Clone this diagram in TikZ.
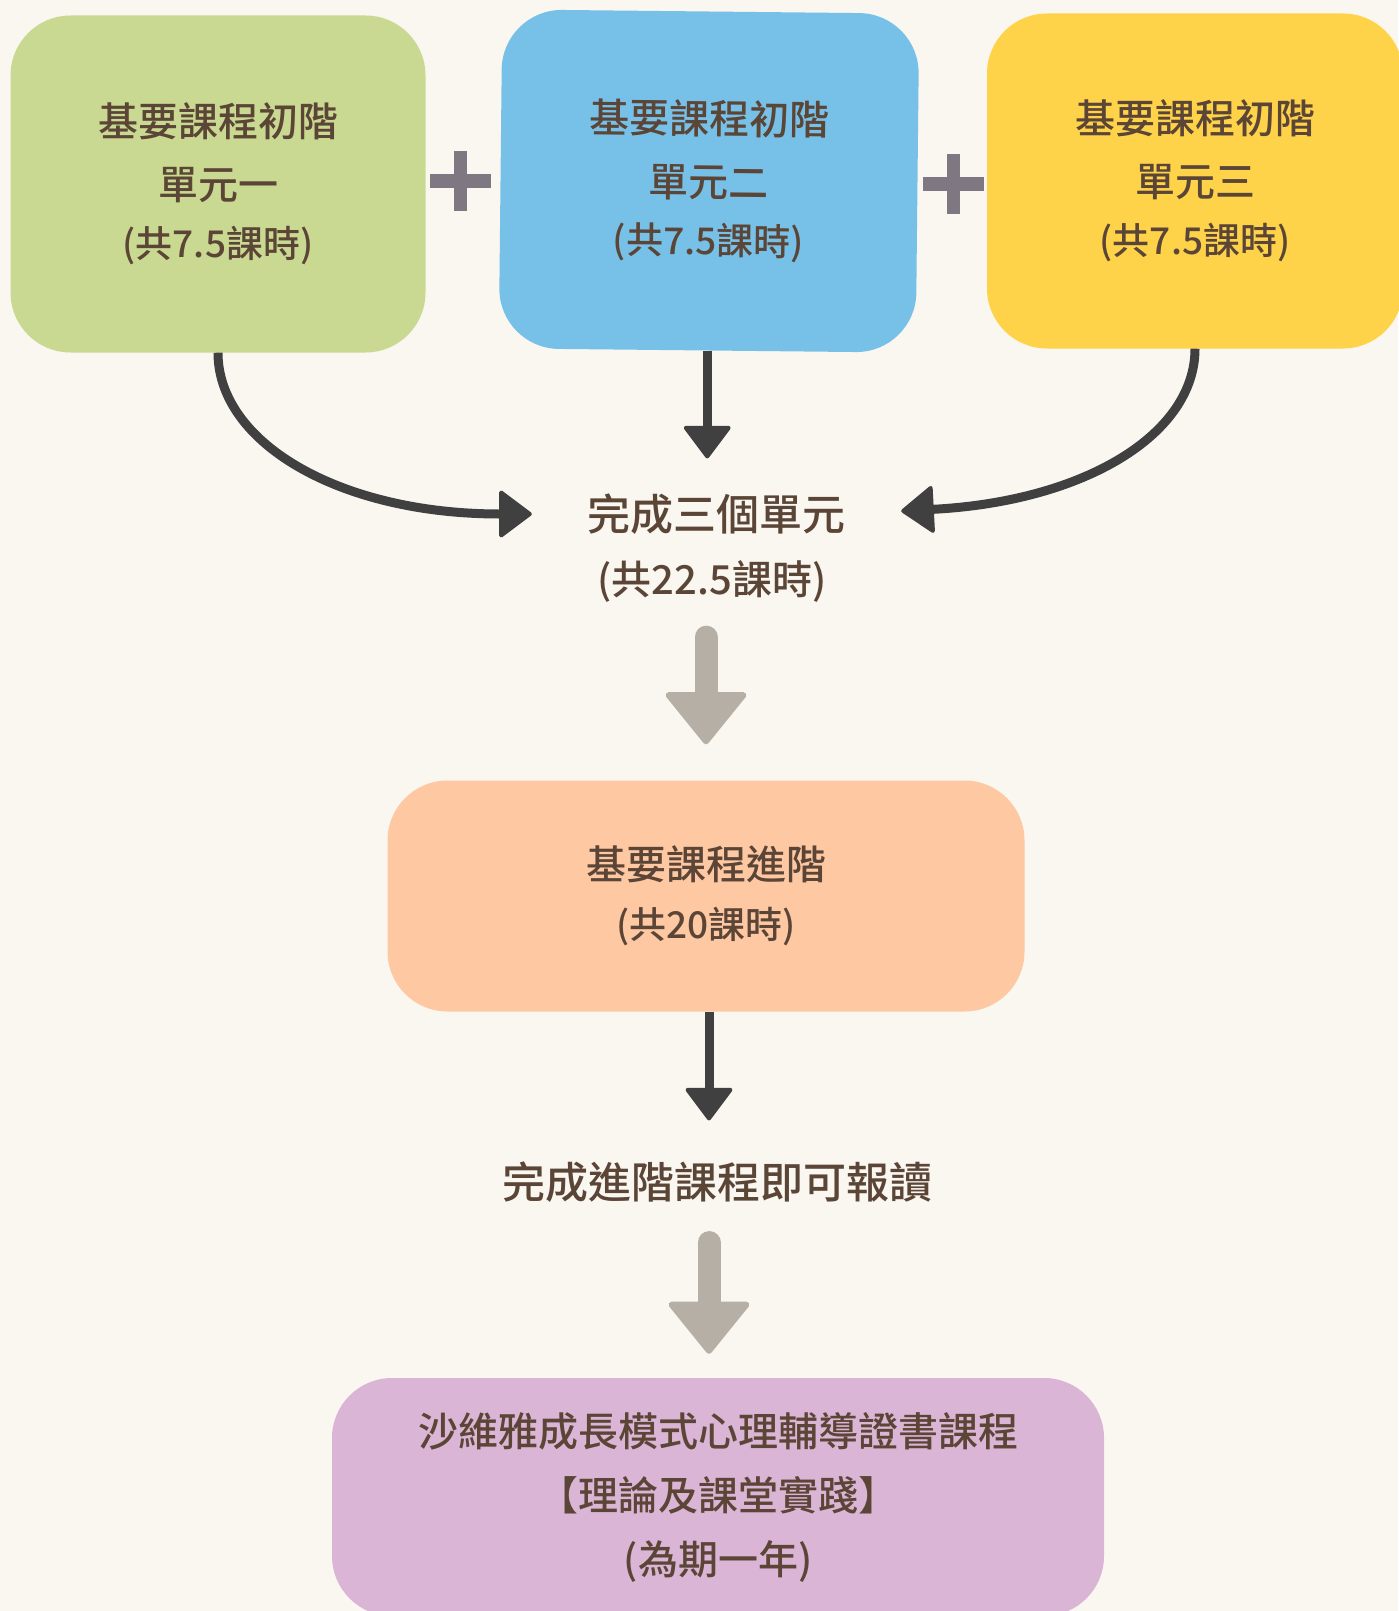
\documentclass[tikz,border=0pt]{standalone}
\usepackage{fontspec}
\setmainfont{Noto Sans CJK TC Medium}
\usetikzlibrary{arrows.meta}

\definecolor{bgcream}{HTML}{FAF6F0}
\definecolor{txtbrown}{HTML}{5B4537}
\definecolor{unitgreen}{HTML}{C9D991}
\definecolor{unitblue}{HTML}{77C1E8}
\definecolor{unityellow}{HTML}{FFD349}
\definecolor{advpeach}{HTML}{FEC8A2}
\definecolor{certpurple}{HTML}{DBB5D6}
\definecolor{arrowdark}{HTML}{404040}
\definecolor{arrowgray}{HTML}{B5AFA5}
\definecolor{plusgray}{HTML}{7F7883}

\newcommand{\hrs}[1]{{\fontsize{37}{60}\selectfont #1}}

\begin{document}
\begin{tikzpicture}[x=1pt,y=1pt,
    every node/.style={text=txtbrown},
    unit/.style={rounded corners=60pt, minimum width=415pt, minimum height=337pt,
                 align=center, font=\fontsize{40}{63}\selectfont,
                 execute at begin node=\rule{0pt}{41pt}},
    textline/.style={inner sep=0pt, font=\fontsize{43}{43}\selectfont},
    flow/.style={draw=arrowdark, line width=9pt,
                 -{Triangle[length=34pt,width=50pt,round,line width=4pt]}},
    bigflow/.style={draw=arrowgray, line width=23pt, line cap=round,
                 -{Triangle[length=54pt,width=86pt,round,line width=6pt]}},
    plusbar/.style={draw=plusgray, line width=13.5pt},
    sweep/.style={out looseness=0.65, in looseness=1.4}
  ]
  \useasboundingbox (0,0) rectangle (1398,-1611);
  \fill[bgcream] (0,0) rectangle (1398,-1611);

  % the three units
  \node[unit, fill=unitgreen] (u1) at (218,-184) {基要課程初階\\單元一\\[-5pt]\hrs{(共7.5課時)}};
  \node[unit, fill=unitblue, minimum width=417pt, minimum height=339pt, rotate=-0.6] (u2) at (709,-181) {基要課程初階\\單元二\\[-5pt]\hrs{(共7.5課時)}};
  \node[unit, fill=unityellow, minimum width=416pt, minimum height=335pt] (u3) at (1195,-181) {基要課程初階\\單元三\\[-5pt]\hrs{(共7.5課時)}};

  \coordinate (plus1) at (460.5,-181);
  \coordinate (plus2) at (953.5,-184);
  \foreach \p in {plus1,plus2} {
    \draw[plusbar] ([xshift=-30.5pt]\p) -- ([xshift=30.5pt]\p);
    \draw[plusbar] ([yshift=-30pt]\p) -- ([yshift=30pt]\p);
  }

  \node[textline] (done) at (716,-514) {完成三個單元};
  \node[textline, font=\fontsize{40}{40}\selectfont] (donehrs) at (712,-581) {(共22.5課時)};

  \node[unit, fill=advpeach, minimum width=637pt, minimum height=231pt] (adv) at (706,-896) {基要課程進階\\[-4pt]\hrs{(共20課時)}};

  \node[textline] (apply) at (717,-1182) {完成進階課程即可報讀};

  \node[unit, fill=certpurple, minimum width=772pt, minimum height=238pt, font=\fontsize{40}{64}\selectfont] (cert) at (718,-1497) {沙維雅成長模式心理輔導證書課程\\【理論及課堂實踐】\\(為期一年)};

  % connectors
  \draw[flow] (u1.south) to[out=-90, in=180, sweep] ([xshift=-55pt]done.west);
  \draw[flow] (u2.south) -- ([yshift=35pt]u2.south |- done.north);
  \draw[flow] (u3.south) to[out=-90, in=3, sweep] ([xshift=56pt,yshift=3pt]done.east);
  \draw[bigflow] ([yshift=-35pt]adv.north |- donehrs.south) -- ([yshift=36pt]adv.north);
  \draw[flow] ([xshift=3pt]adv.south) -- ([xshift=3pt,yshift=41pt]adv.south |- apply.north);
  \draw[bigflow] ([xshift=-8pt,yshift=-40pt]apply.south) -- ([xshift=-8pt,yshift=24pt]apply.south |- cert.north);
\end{tikzpicture}
\end{document}
